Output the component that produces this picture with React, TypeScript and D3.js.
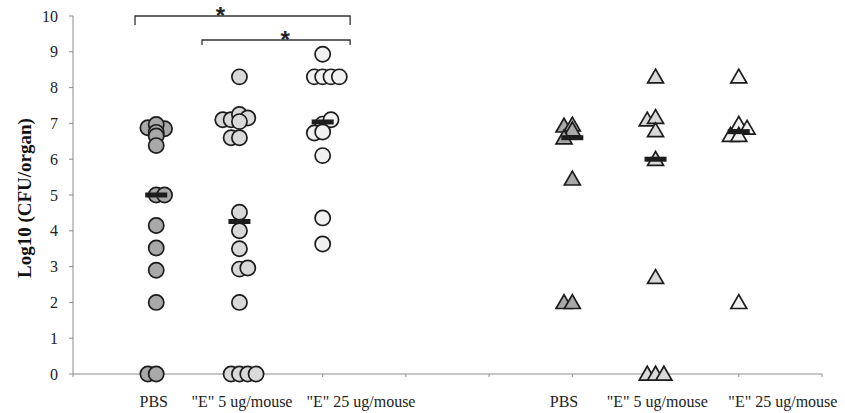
import React from "react";
import * as d3 from "d3";

// Log10 CFU per organ, each mouse as [x position on the axis, value]
const pbsLeft: [number, number][] = [
  [0.9, 6.88], [1.1, 6.85], [1.0, 6.97], [1.0, 6.75], [1.0, 6.65], [1.0, 6.38],
  [1.0, 5.0], [1.1, 5.0], [1.0, 4.15], [1.0, 3.52], [1.0, 2.9], [1.0, 2.0],
  [0.9, 0], [1.0, 0],
];
const e5Left: [number, number][] = [
  [2.0, 8.3], [1.8, 7.1], [1.9, 7.1], [2.0, 7.25], [2.1, 7.15], [2.0, 7.05],
  [1.9, 6.6], [2.0, 6.6], [2.0, 4.52], [2.0, 4.0], [2.0, 3.5], [2.0, 2.93],
  [2.1, 2.96], [2.0, 2.0], [1.9, 0], [2.0, 0], [2.1, 0], [2.2, 0],
];
const e25Left: [number, number][] = [
  [3.0, 8.93], [2.9, 8.3], [3.0, 8.3], [3.1, 8.3], [3.2, 8.3], [3.0, 6.98],
  [3.1, 7.1], [2.9, 6.73], [3.0, 6.76], [3.0, 6.1], [3.0, 4.36], [3.0, 3.63],
];
const pbsRight: [number, number][] = [
  [5.9, 6.93], [6.0, 6.96], [6.0, 6.82], [5.9, 6.6], [6.0, 5.45], [5.9, 2.0], [6.0, 2.0],
];
const e5Right: [number, number][] = [
  [7.0, 8.3], [6.9, 7.1], [7.0, 7.17], [7.0, 6.8], [7.0, 6.0], [7.0, 2.7],
  [6.9, 0], [7.0, 0], [7.1, 0],
];
const e25Right: [number, number][] = [
  [8.0, 8.3], [8.0, 6.98], [8.1, 6.87], [7.9, 6.67], [8.0, 6.67], [8.0, 2.0],
];

const groupNames = ["PBS", "\"E\" 5 ug/mouse", "\"E\" 25 ug/mouse", "PBS", "\"E\" 5 ug/mouse", "\"E\" 25 ug/mouse"];
const groupLabelX = [0.97, 2.03, 3.46, 5.9, 7.02, 8.53];
const yTicks = d3.range(0, 11);
const xTicks = d3.range(0, 10);

// significance brackets: [from, to, level, tip level, star x]
const brackets: [number, number, number, number, number][] = [
  [0.745, 3.33, 10.0, 9.75, 1.77],
  [1.55, 3.33, 9.33, 9.19, 2.55],
];

const W = 845;
const H = 413;
const x = d3.scaleLinear().domain([0, 9]).range([73, 822]);
const y = d3.scaleLinear().domain([0, 10]).range([374, 16]);

const AXIS = "#8c8c8c";
const INK = "#1c1c1c";
const SERIF = "'Liberation Serif', 'Times New Roman', serif";

type Series = { pts: [number, number][]; shape: "circle" | "triangle"; fill: string };
const series: Series[] = [
  { pts: pbsLeft, shape: "circle", fill: "#a8a8a8" },
  { pts: e5Left, shape: "circle", fill: "#d9d9d9" },
  { pts: e25Left, shape: "circle", fill: "#f1f1f1" },
  { pts: pbsRight, shape: "triangle", fill: "#a8a8a8" },
  { pts: e5Right, shape: "triangle", fill: "#d9d9d9" },
  { pts: e25Right, shape: "triangle", fill: "#f1f1f1" },
];

const tri = d3.symbol().type(d3.symbolTriangle).size(110);

export default function App() {
  return (
    <svg
      width={W}
      height={H}
      style={{ position: "absolute", left: 0, top: 0, background: "#fff" }}
    >
      {/* y axis */}
      <line x1={x(0)} x2={x(0)} y1={y(10)} y2={y(0)} stroke={AXIS} strokeWidth={1} />
      {yTicks.map((t) => (
        <g key={t}>
          <line x1={x(0) - 4} x2={x(0)} y1={y(t)} y2={y(t)} stroke={AXIS} />
          <text
            x={58}
            y={y(t)}
            dy="0.35em"
            textAnchor="end"
            fontFamily={SERIF}
            fontSize={16}
            fill="#222"
          >
            {t}
          </text>
        </g>
      ))}
      <text
        transform={`translate(31, 198) rotate(-90)`}
        textAnchor="middle"
        fontFamily={SERIF}
        fontWeight="bold"
        fontSize={19}
        fill="#111"
      >
        Log10 (CFU/organ)
      </text>

      {/* x axis */}
      <line x1={x(0)} x2={x(9)} y1={y(0)} y2={y(0)} stroke={AXIS} strokeWidth={1} />
      {xTicks.map((t) => (
        <line key={t} x1={x(t)} x2={x(t)} y1={y(0)} y2={y(0) + 3} stroke={AXIS} />
      ))}
      {groupNames.map((n, i) => (
        <text
          key={i}
          x={x(groupLabelX[i])}
          y={407}
          textAnchor="middle"
          fontFamily={SERIF}
          fontSize={16}
          fill="#222"
        >
          {n}
        </text>
      ))}

      {/* individual animals */}
      {series.map((s, si) => (
        <g key={si}>
          {s.pts.map(([px, v], i) =>
            s.shape === "circle" ? (
              <circle
                key={i}
                cx={x(px)}
                cy={y(v)}
                r={7.6}
                fill={s.fill}
                stroke={INK}
                strokeWidth={1.7}
              />
            ) : (
              <path
                key={i}
                d={tri() as string}
                transform={`translate(${x(px)},${y(v) + 1.5})`}
                fill={s.fill}
                stroke={INK}
                strokeWidth={1.7}
                strokeLinejoin="miter"
              />
            )
          )}
        </g>
      ))}

      {/* group medians */}
      {series.map((s, si) => {
        const centre = Math.round(d3.mean(s.pts, (p) => p[0]) as number);
        const med = d3.median(s.pts, (p) => p[1]) as number;
        return (
          <rect
            key={si}
            x={x(centre) - 11}
            y={y(med) - 2.5}
            width={22}
            height={5}
            fill={INK}
          />
        );
      })}

      {/* significance brackets */}
      {brackets.map(([a, b, lvl, tip, sx], i) => (
        <g key={i}>
          <path
            d={`M${x(a)},${y(tip)}V${y(lvl)}H${x(b)}V${y(tip)}`}
            fill="none"
            stroke="#333"
            strokeWidth={1.3}
          />
          <text
            x={x(sx)}
            y={y(lvl) + 8}
            textAnchor="middle"
            fontFamily="'Liberation Sans', Arial, sans-serif"
            fontWeight="bold"
            fontSize={24}
            fill="#222"
          >
            *
          </text>
        </g>
      ))}
    </svg>
  );
}
